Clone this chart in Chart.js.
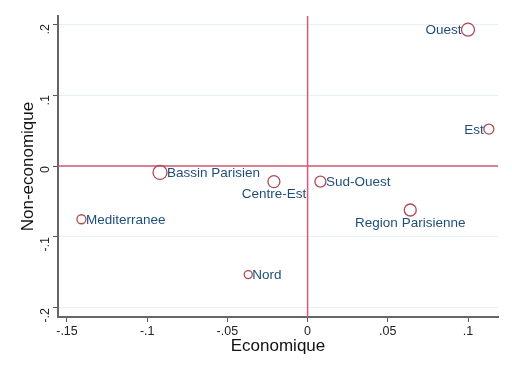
<!DOCTYPE html>
<html lang="fr">
<head>
  <meta charset="UTF-8" />
  <title>Economique / Non-economique</title>
  <script src="https://cdn.jsdelivr.net/npm/chart.js"></script>
  <style>
    body { margin: 0; background: #fff; }
    canvas { display: block; }
  </style>
</head>
<body>
  <canvas id="grafico" width="512" height="373"></canvas>

<script>
// donnees
const regions = ['Ouest', 'Est', 'Bassin Parisien', 'Centre-Est', 'Sud-Ouest', 'Region Parisienne', 'Mediterranee', 'Nord'];
const economique = [0.100, 0.113, -0.092, -0.021, 0.008, 0.064, -0.141, -0.037];
const nonEconomique = [0.192, 0.052, -0.009, -0.022, -0.022, -0.062, -0.075, -0.153];
const poids = [6.5, 5, 7, 6, 5.5, 6, 4.5, 4];
// position de l'etiquette (comme mlabvposition: 3 = droite, 9 = gauche, 6 = dessous)
const posEtiquette = [9, 9, 3, 6, 3, 6, 3, 3];

const ticksX = [-0.15, -0.1, -0.05, 0, 0.05, 0.1];
const ticksY = [-0.2, -0.1, 0, 0.1, 0.2];

const police = '"Liberation Sans", Arial, sans-serif';

const fmt = v => {
  if (Math.abs(v) < 1e-9) return '0';
  return String(+v.toFixed(2)).replace('0.', '.');
};

const pontos = economique.map((x, i) => ({ x: x, y: nonEconomique[i] }));

// lignes de reference en x = 0 et y = 0
const lignesRef = {
  id: 'lignesRef',
  beforeDatasetsDraw(chart) {
    const { ctx, chartArea, scales } = chart;
    const x0 = scales.x.getPixelForValue(0);
    const y0 = scales.y.getPixelForValue(0);
    ctx.save();
    ctx.strokeStyle = '#d55a72';
    ctx.lineWidth = 1.5;
    ctx.beginPath();
    ctx.moveTo(x0, chartArea.top);
    ctx.lineTo(x0, chartArea.bottom);
    ctx.moveTo(chartArea.left, y0);
    ctx.lineTo(chartArea.right, y0);
    ctx.stroke();
    ctx.restore();
  }
};

// etiquettes des points
const etiquettes = {
  id: 'etiquettes',
  afterDatasetsDraw(chart) {
    const ctx = chart.ctx;
    const meta = chart.getDatasetMeta(0);
    ctx.save();
    ctx.font = '13.5px ' + police;
    ctx.fillStyle = '#1f4e79';
    meta.data.forEach((pt, i) => {
      const r = poids[i];
      const pos = posEtiquette[i];
      ctx.textBaseline = 'middle';
      if (pos === 9) {
        ctx.textAlign = 'right';
        ctx.fillText(regions[i], pt.x - r, pt.y + 1);
      } else if (pos === 6) {
        ctx.textAlign = 'center';
        ctx.fillText(regions[i], pt.x, pt.y + r + 7);
      } else {
        ctx.textAlign = 'left';
        ctx.fillText(regions[i], pt.x + r, pt.y + 1);
      }
    });
    ctx.restore();
  }
};

const ctx = document.getElementById('grafico').getContext('2d');
new Chart(ctx, {
  type: 'scatter',
  data: {
    datasets: [{
      data: pontos,
      pointRadius: poids,
      pointHoverRadius: poids,
      pointBorderWidth: 1.3,
      borderColor: '#b04a55',
      backgroundColor: 'rgba(0,0,0,0)'
    }]
  },
  options: {
    responsive: false,
    animation: false,
    events: [],
    layout: { padding: { left: 0, top: 16, right: 14, bottom: 0 } },
    plugins: { legend: { display: false }, tooltip: { enabled: false } },
    scales: {
      x: {
        type: 'linear',
        min: -0.1556,
        max: 0.1187,
        afterBuildTicks: scale => { scale.ticks = ticksX.map(v => ({ value: v })); },
        afterFit: scale => { scale.height = 56; },
        grid: { color: 'rgba(0,0,0,0)', tickColor: '#555', tickLength: 5, drawOnChartArea: false },
        border: { color: '#666', width: 2 },
        ticks: {
          callback: v => fmt(v),
          color: '#222',
          font: { size: 12.5, family: police },
          padding: 2,
          maxRotation: 0
        },
        title: {
          display: true,
          text: 'Economique',
          color: '#111',
          font: { size: 17, family: police },
          padding: { top: 0, bottom: 16 }
        }
      },
      y: {
        type: 'linear',
        min: -0.2127,
        max: 0.2113,
        afterBuildTicks: scale => { scale.ticks = ticksY.map(v => ({ value: v })); },
        afterFit: scale => { scale.width = 58; },
        grid: { color: '#e8f1f2', tickColor: '#555', tickLength: 5 },
        border: { color: '#666', width: 2 },
        ticks: {
          callback: v => fmt(v),
          color: '#222',
          font: { size: 12.5, family: police },
          padding: 7,
          minRotation: 90,
          maxRotation: 90
        },
        title: {
          display: true,
          text: 'Non-economique',
          color: '#111',
          font: { size: 17, family: police },
          padding: { top: 18, bottom: 0 }
        }
      }
    }
  },
  plugins: [lignesRef, etiquettes]
});
</script>
</body>
</html>
